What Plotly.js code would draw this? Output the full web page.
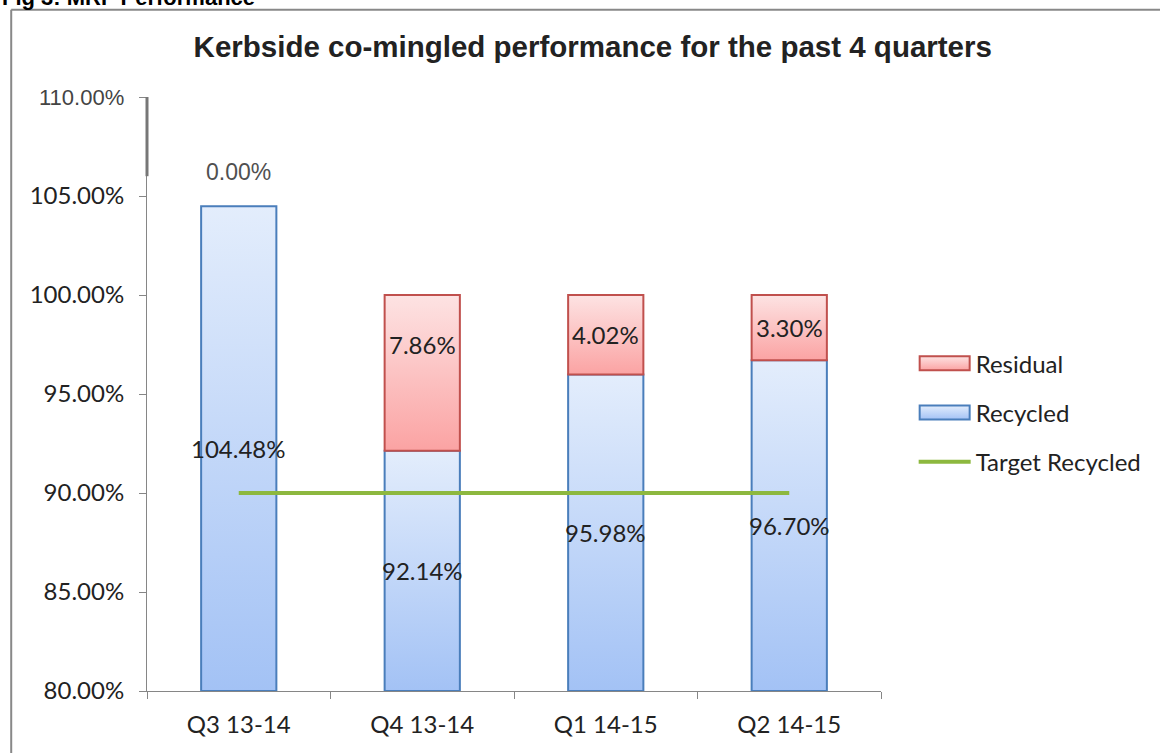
<!DOCTYPE html>
<html>
<head>
<meta charset="utf-8">
<script src="https://cdn.plot.ly/plotly-3.0.1.min.js"></script>
<style>
html,body{margin:0;padding:0;background:#fff;}
#chart{width:1160px;height:753px;}
</style>
</head>
<body>
<div id="chart"></div>
<script>
const categories = ['Q3 13-14', 'Q4 13-14', 'Q1 14-15', 'Q2 14-15'];
const recycled = [104.48, 92.14, 95.98, 96.70];
const residual = [0.00, 7.86, 4.02, 3.30];
const target = [90, 90, 90, 90];
const yTickValues = [80, 85, 90, 95, 100, 105, 110];
const yTickLabels = ['80.00%', '85.00%', '90.00%', '95.00%', '100.00%', '105.00%', '110.00%'];
const axisMin = 80;
const axisMax = 110;

const baseFont = 'Lato, "Open Sans", sans-serif';
const labelFont = {family: baseFont, size: 24, color: '#222'};

const traces = [
  {
    type: 'bar', name: 'Recycled', x: categories,
    y: recycled.map(v => v - axisMin), base: axisMin,
    width: 0.41,
    marker: {color: '#c6daf8', line: {color: '#4a7ebb', width: 2}},
    legendrank: 2, legendgroup: 'b', hoverinfo: 'skip'
  },
  {
    type: 'bar', name: 'Residual', x: categories,
    y: residual.map(v => v === 0 ? null : v), base: recycled,
    width: 0.41,
    marker: {color: '#fdc4c4', line: {color: '#c0504d', width: 2}},
    legendrank: 1, legendgroup: 'a', hoverinfo: 'skip'
  },
  {
    type: 'scatter', mode: 'lines', name: 'Target Recycled', x: categories, y: target,
    line: {color: '#8db83f', width: 4},
    legendrank: 3, legendgroup: 'c', hoverinfo: 'skip'
  }
];

const annotations = [];
categories.forEach((c, i) => {
  annotations.push({
    x: c, y: (axisMin + Math.min(recycled[i], axisMax)) / 2,
    text: recycled[i].toFixed(2) + '%', showarrow: false, font: labelFont,
    xref: 'x', yref: 'y'
  });
  if (residual[i] === 0) {
    annotations.push({
      x: c, y: recycled[i], yshift: 34,
      text: residual[i].toFixed(2) + '%', showarrow: false,
      font: {family: 'Liberation Sans, Arial, sans-serif', size: 23, color: '#505050'},
      xref: 'x', yref: 'y'
    });
  } else {
    annotations.push({
      x: c, y: Math.max(recycled[i] + residual[i] / 2, 97.5),
      text: residual[i].toFixed(2) + '%', showarrow: false, font: labelFont,
      xref: 'x', yref: 'y'
    });
  }
});

annotations.push({
  xref: 'paper', yref: 'paper', x: -0.2003, y: 1.168, xanchor: 'left', yanchor: 'middle',
  text: '<b>Fig 3: MRF Performance</b>', showarrow: false,
  font: {family: 'Liberation Sans, Arial, sans-serif', size: 22, color: '#000'}
});

const tickText = yTickLabels.map((t, i) => i === yTickLabels.length - 1
  ? '<span style="font-family:Liberation Sans, Arial, sans-serif;font-size:22px;color:#444">' + t + '</span>'
  : t);

const layout = {
  width: 1160, height: 753,
  margin: {l: 147, r: 279, t: 97, b: 62},
  paper_bgcolor: '#fff', plot_bgcolor: '#fff',
  barmode: 'overlay',
  title: {
    text: 'Kerbside co-mingled performance for the past 4 quarters',
    font: {family: 'Liberation Sans, Arial, sans-serif', size: 29.5, color: '#222', weight: 'bold'},
    x: 0.511, xref: 'container', xanchor: 'center',
    y: 1 - 47 / 753, yref: 'container', yanchor: 'middle'
  },
  xaxis: {
    type: 'category', range: [-0.5, 3.5],
    showline: true, linecolor: '#868686', linewidth: 1,
    ticks: 'outside', tickson: 'boundaries', ticklen: 7, tickcolor: '#868686',
    ticklabelstandoff: 12,
    tickfont: {family: baseFont, size: 24, color: '#222'},
    showgrid: false, zeroline: false, fixedrange: true
  },
  yaxis: {
    range: [axisMin, axisMax],
    tickvals: yTickValues,
    ticktext: tickText,
    showline: true, linecolor: '#868686', linewidth: 1,
    ticks: 'outside', ticklen: 7, tickcolor: '#868686',
    ticklabelstandoff: 10,
    tickfont: {family: baseFont, size: 24, color: '#222'},
    showgrid: false, zeroline: false, fixedrange: true
  },
  legend: {
    x: 1.0445, y: 0.589, xanchor: 'left', yanchor: 'top',
    font: {family: baseFont, size: 24, color: '#222'},
    tracegroupgap: 15, itemwidth: 52, bgcolor: 'rgba(0,0,0,0)'
  },
  showlegend: true,
  annotations: annotations,
  shapes: [
    {type: 'line', xref: 'paper', yref: 'y', x0: 0, x1: 0, y0: 106, y1: 110,
     line: {color: '#777', width: 3}},
    {type: 'line', xref: 'paper', yref: 'paper', x0: -0.185, x1: 1.4, y0: 1.147, y1: 1.147,
     line: {color: '#888', width: 2}},
    {type: 'line', xref: 'paper', yref: 'paper', x0: -0.185, x1: -0.185, y0: 1.147, y1: -0.2,
     line: {color: '#888', width: 2}}
  ]
};

Plotly.newPlot('chart', traces, layout, {displayModeBar: false, staticPlot: true}).then(gd => {
  const svg = gd.querySelector('.main-svg');
  const ns = 'http://www.w3.org/2000/svg';
  let defs = svg.querySelector('defs');
  if (!defs) { defs = document.createElementNS(ns, 'defs'); svg.insertBefore(defs, svg.firstChild); }
  function grad(id, top, bottom) {
    const g = document.createElementNS(ns, 'linearGradient');
    g.setAttribute('id', id);
    g.setAttribute('x1', '0'); g.setAttribute('y1', '0');
    g.setAttribute('x2', '0'); g.setAttribute('y2', '1');
    [[0, top], [1, bottom]].forEach(([o, c]) => {
      const s = document.createElementNS(ns, 'stop');
      s.setAttribute('offset', o); s.setAttribute('stop-color', c);
      g.appendChild(s);
    });
    defs.appendChild(g);
  }
  grad('gBlue', '#e3edfc', '#a3c2f5');
  grad('gRed', '#fde3e3', '#fba3a3');
  const bt = gd.querySelectorAll('.barlayer .trace');
  if (bt[0]) bt[0].querySelectorAll('path').forEach(p => p.style.fill = 'url(#gBlue)');
  if (bt[1]) bt[1].querySelectorAll('path').forEach(p => p.style.fill = 'url(#gRed)');
  gd.querySelectorAll('.legend .traces').forEach(t => {
    const txt = t.querySelector('.legendtext');
    const p = t.querySelector('.legendpoints path');
    if (!txt || !p) return;
    const name = txt.textContent;
    if (name === 'Recycled' || name === 'Residual') {
      p.setAttribute('d', 'M25,7H-25V-7H25Z');
      p.style.fill = name === 'Recycled' ? 'url(#gBlue)' : 'url(#gRed)';
    }
  });
});
</script>
</body>
</html>
